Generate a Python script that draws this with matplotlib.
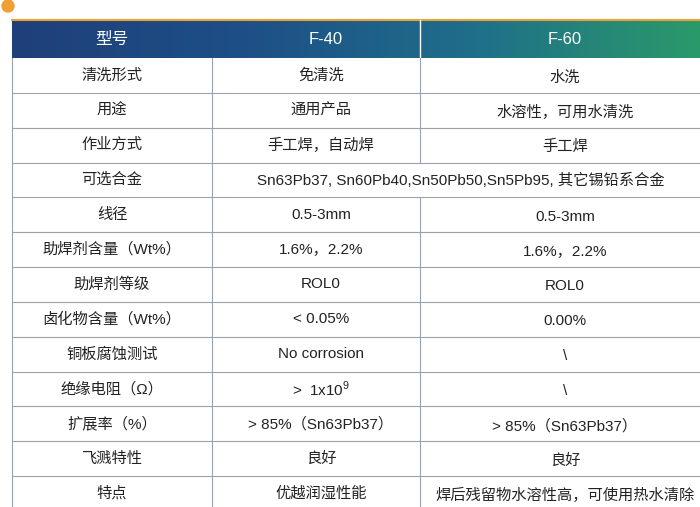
import numpy as np
import matplotlib.pyplot as plt
from matplotlib.colors import LinearSegmentedColormap

plt.rcParams['font.family'] = ['Liberation Sans', 'Noto Sans CJK SC']
plt.rcParams['mathtext.fontset'] = 'custom'
plt.rcParams['mathtext.rm'] = 'Liberation Sans'

headers = ['型号', 'F-40', 'F-60']
items = ['清洗形式', '用途', '作业方式', '可选合金', '线径', '助焊剂含量（Wt%）', '助焊剂等级',
         '卤化物含量（Wt%）', '铜板腐蚀测试', '绝缘电阻（Ω）', '扩展率（%）', '飞溅特性', '特点']
f40 = ['免清洗', '通用产品', '手工焊，自动焊',
       'Sn63Pb37, Sn60Pb40,Sn50Pb50,Sn5Pb95, 其它锡铅系合金',
       '0.5-3mm', '1.6%，2.2%', 'ROL0', '< 0.05%', 'No corrosion', r'>  1x10$^9$',
       '> 85%（Sn63Pb37）', '良好', '优越润湿性能']
f60 = ['水洗', '水溶性，可用水清洗', '手工焊', None,
       '0.5-3mm', '1.6%，2.2%', 'ROL0', '0.00%', '\\', '\\',
       '> 85%（Sn63Pb37）', '良好', '焊后残留物水溶性高，可使用热水清除']

W, H = 700, 507
fig = plt.figure(figsize=(7, 5.07), dpi=100)
ax = fig.add_axes([0, 0, 1, 1])
ax.set_xlim(0, W)
ax.set_ylim(H, 0)
ax.axis('off')

x0, x1, x2, x3 = 12, 212, 420, 700
top, hb = 20, 58
rh = (H - hb + 4) / len(items)
fs = 11

# header gradient
cmap = LinearSegmentedColormap.from_list('hdr', ['#1f3f7a', '#1d4f86', '#1f6e8a', '#2a9a6a'])
ax.imshow(np.linspace(0, 1, 256)[None, :], cmap=cmap, aspect='auto',
          extent=[x0, x3, hb, top], zorder=0)
ax.add_patch(plt.Circle((8, 6), 6, color='#f0a030', zorder=1))
ax.plot([x0, x3], [top, top], color='#f0a030', lw=1.5)
for x, t in zip([(x0 + x1) / 2, (x1 + x2) / 2 + 10, (x2 + x3) / 2 + 5], headers):
    ax.text(x, (top + hb) / 2, t, color='white', fontsize=12, ha='center', va='center')
ax.plot([x2, x2], [top, hb], color='white', lw=1)

for i, (it, a, b) in enumerate(zip(items, f40, f60)):
    y = hb + i * rh
    yc = y + rh / 2
    ax.plot([x0, x3], [y + rh, y + rh], color='#9aa3ad', lw=0.8)
    ax.text((x0 + x1) / 2, yc, it, fontsize=fs, ha='center', va='center', color='#222222')
    ax.plot([x1, x1], [y, y + rh], color='#9aa3ad', lw=0.8)
    if b is None:
        ax.text((x1 + x3) / 2 + 5, yc, a, fontsize=fs, ha='center', va='center', color='#222222')
    else:
        ax.text((x1 + x2) / 2 + 5, yc, a, fontsize=fs, ha='center', va='center', color='#222222')
        ax.text((x2 + x3) / 2 + 5, yc + 2, b, fontsize=fs, ha='center', va='center', color='#222222')
        ax.plot([x2, x2], [y, y + rh], color='#9aa3ad', lw=0.8)
ax.plot([x0, x0], [hb, H], color='#9aa3ad', lw=0.8)

fig.savefig('out.png', dpi=100)
